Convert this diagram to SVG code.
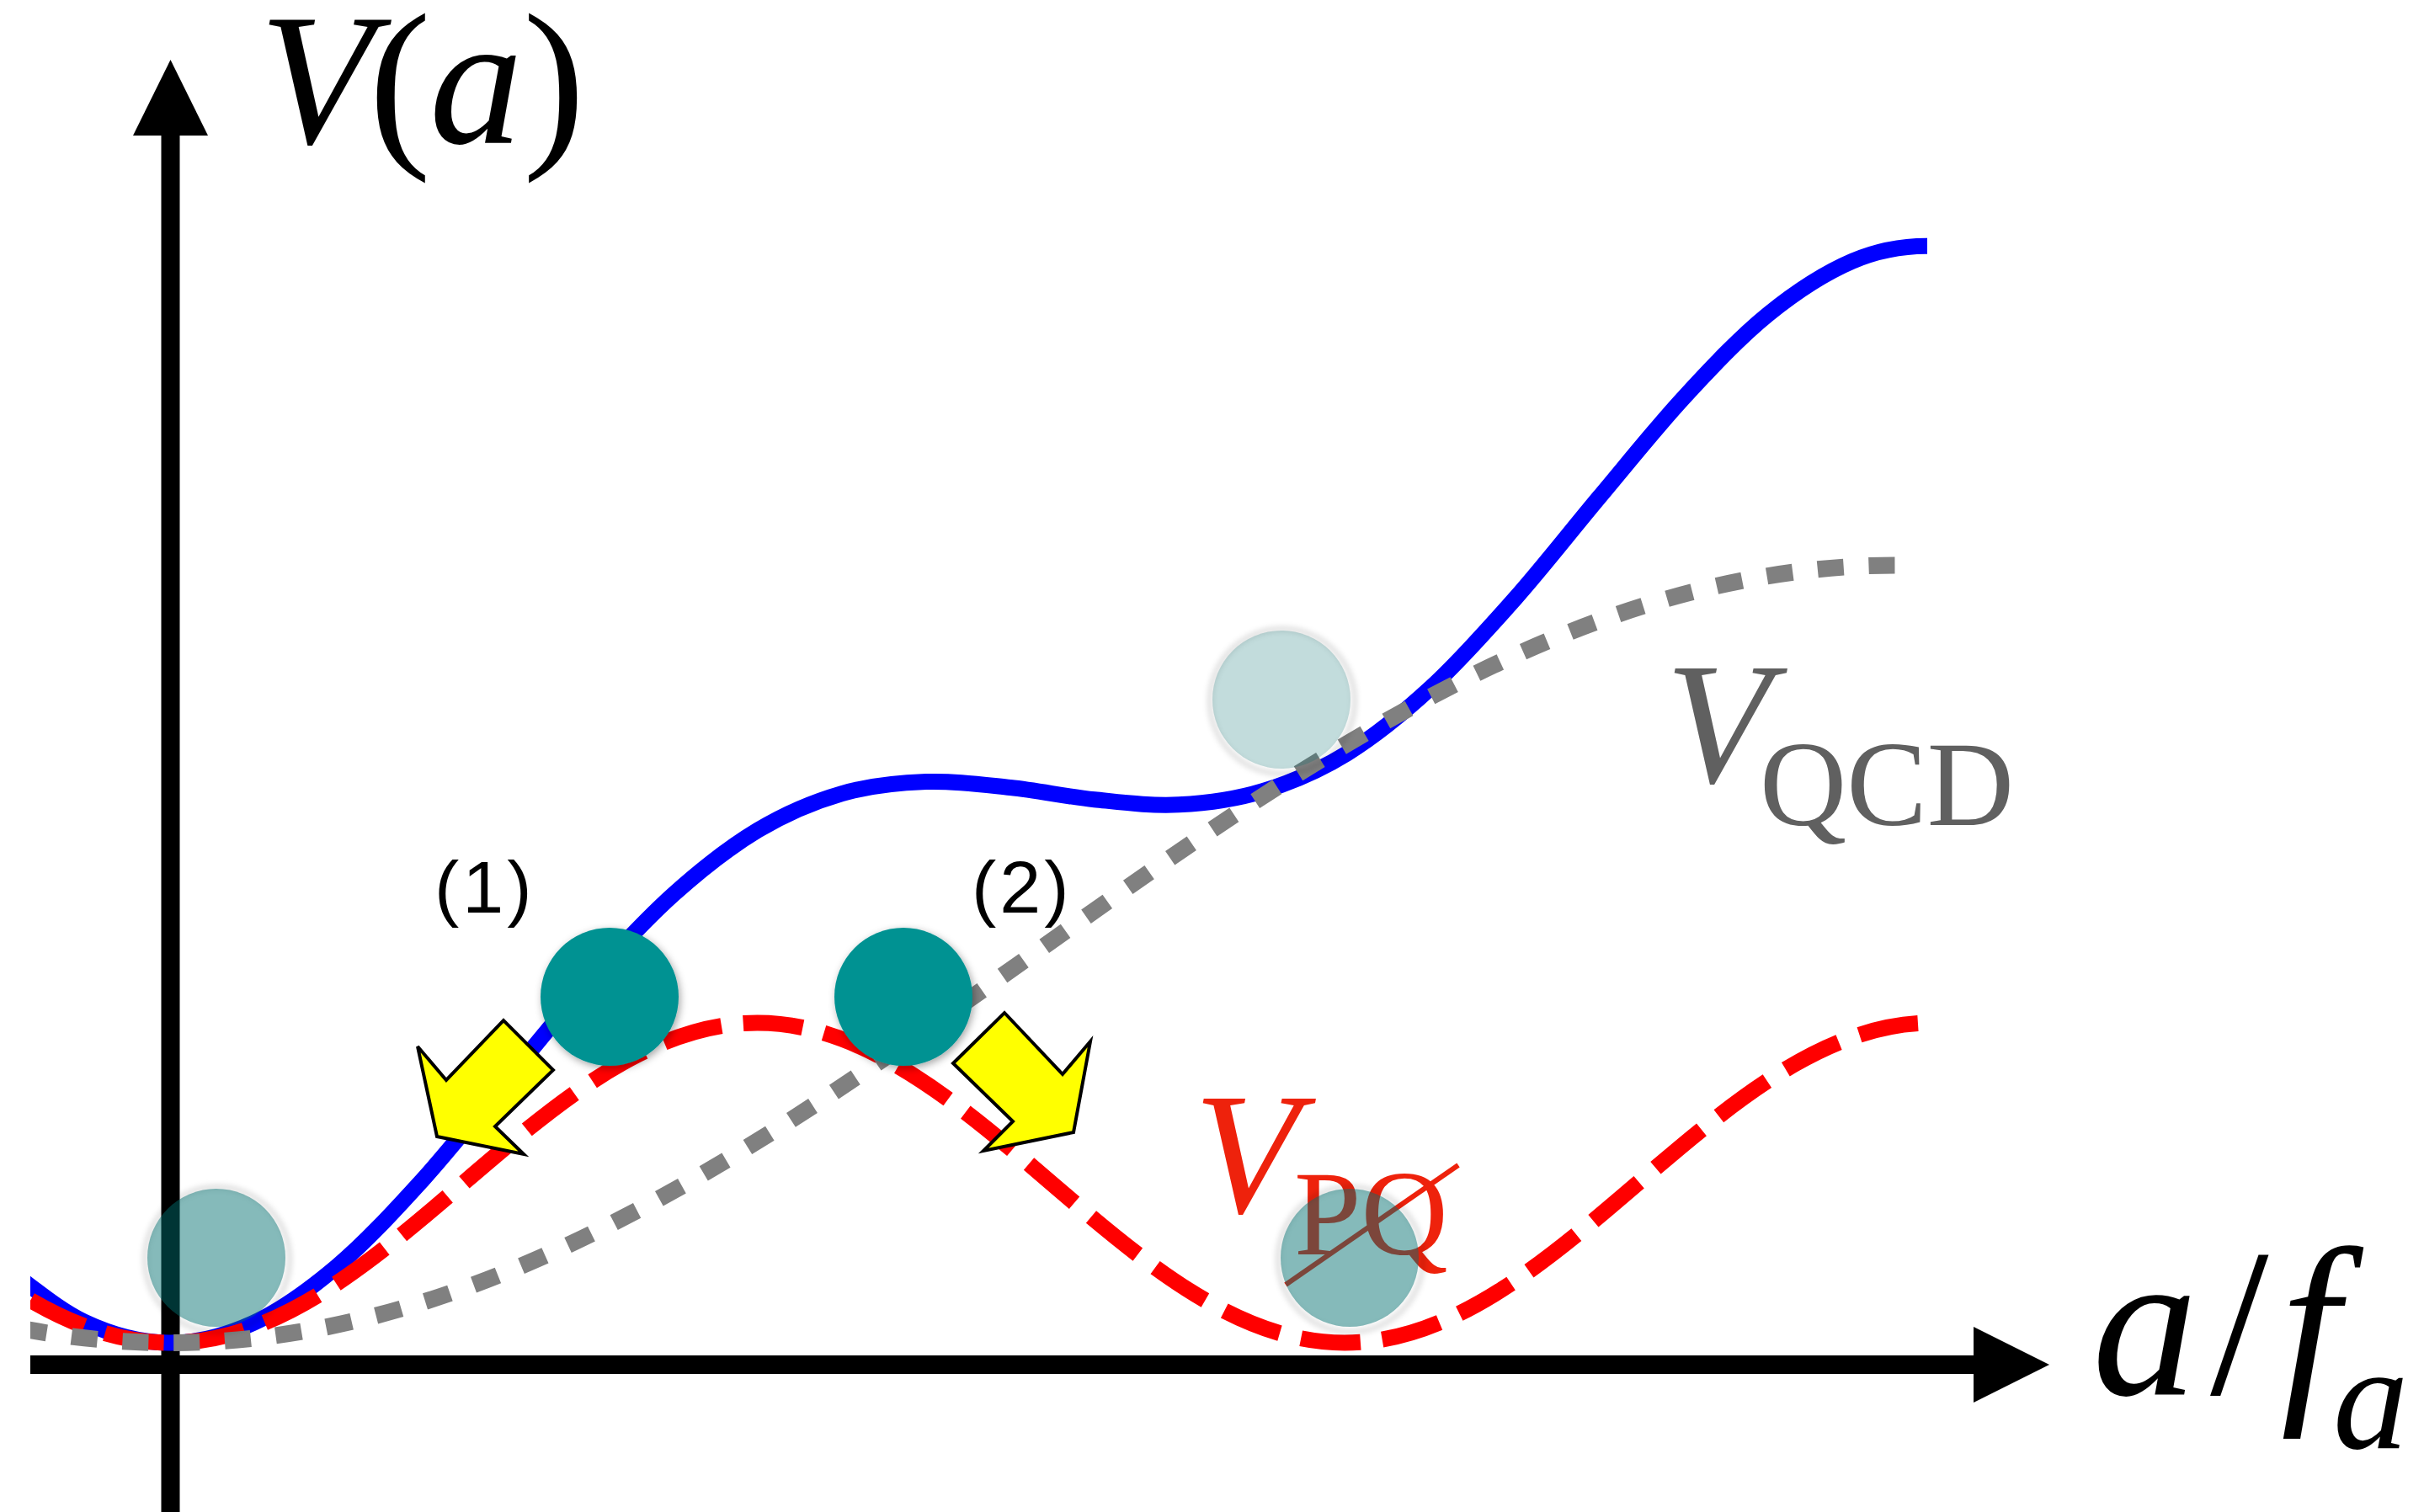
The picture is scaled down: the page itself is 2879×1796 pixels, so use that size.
<svg xmlns="http://www.w3.org/2000/svg" width="2879" height="1796" viewBox="0 0 2879 1796">
<style>
.serif{font-family:"Liberation Serif","Times New Roman",serif}
.it{font-style:italic}
.lbl{font-family:"Liberation Sans",Arial,sans-serif;font-size:88px;letter-spacing:4px;fill:#000}
.curve{fill:none;stroke-linecap:butt}
.solid{fill:#009292}
.ghost{fill:rgb(0,110,110)}
.halo{fill:none;stroke:#000;stroke-opacity:0.13;stroke-width:6}
.arrow{fill:#ffff00;stroke:#000;stroke-width:4;stroke-linejoin:miter}
</style>
<defs>
<clipPath id="plot"><rect x="36" y="0" width="2253" height="1796"/></clipPath>
<filter id="shadow" x="-30%" y="-30%" width="160%" height="160%">
<feDropShadow dx="2" dy="3" stdDeviation="5" flood-color="#000" flood-opacity="0.35"/>
</filter>
<filter id="blur" x="-30%" y="-30%" width="160%" height="160%">
<feGaussianBlur stdDeviation="3"/>
</filter>
</defs>
<rect width="2879" height="1796" fill="#fff"/>
<g id="axes">
<line x1="202.5" y1="150" x2="202.5" y2="1796" stroke="#000" stroke-width="22"/>
<polygon points="158,161 202.5,71 247,161" fill="#000"/>
<line x1="36" y1="1621" x2="2350" y2="1621" stroke="#000" stroke-width="22"/>
<polygon points="2344,1576 2434,1621 2344,1666" fill="#000"/>
</g>
<g id="connectors" clip-path="url(#plot)">
<path id="V-total" class="curve" stroke="#0000ff" stroke-width="19" d="M0,1501 C33.3,1524 66.7,1554.4 100,1570.1 S166.7,1594.7 200,1595 S266.7,1587 300,1571.9 S366.7,1532.6 400,1504.5 S466.7,1440.2 500,1403.6 S566.7,1324.4 600,1284.7 S666.7,1202.6 700,1165.5 S766.7,1092.2 800,1062.3 S866.7,1006.2 900,986.2 S966.7,952.2 1000,942.6 S1066.7,929.8 1100,928.6 S1166.7,932 1200,935.5 S1266.7,946.3 1300,949.7 S1366.7,957.5 1400,955.8 S1466.7,949.8 1500,939.6 S1566.7,915.4 1600,894.8 S1666.7,847 1700,816.3 S1766.7,748.1 1800,710.4 S1866.7,629.6 1900,589.9 S1966.7,508.2 2000,472.1 S2066.7,400.3 2100,373.3 S2168.5,323.7 2200,310.2 S2259,292.2 2289,292.2"/>
<path id="V-PQ" class="curve" stroke="#ff0000" stroke-width="19" stroke-dasharray="71 26" stroke-dashoffset="43" d="M-495.5,1215 C-241.6,1215 -51.9,1595 202,1595 C455.9,1595 645.6,1215 899.5,1215 C1153.4,1215 1343.1,1595 1597,1595 C1850.9,1595 2040.6,1215 2294.5,1215"/>
<path id="V-QCD" class="curve" stroke="#808080" stroke-width="20" stroke-dasharray="31 29.8" stroke-dashoffset="19.9" d="M-1848,671.5 C-1101.8,671.5 -544.2,1595 202,1595 C948.2,1595 1505.8,671.5 2252,671.5"/>
</g>
<g id="label-VQCD" class="serif" fill="#606060">
<text x="1978" y="929" font-size="205" class="it">V</text>
<text x="2090" y="980" font-size="143">QCD</text>
</g>
<g id="label-VPQ" class="serif" fill="#ee220c">
<text x="1418" y="1440" font-size="205" class="it">V</text>
<text x="1537" y="1490" font-size="143">PQ</text>
<line x1="1527" y1="1526" x2="1732" y2="1384" stroke="#ee220c" stroke-width="6"/>
</g>
<g id="ball-origin"><circle class="halo" cx="258" cy="1496" r="86" filter="url(#blur)"/><circle class="ghost" cx="257" cy="1494" r="82" fill-opacity="0.48"/></g>
<g id="ball-PQ-min"><circle class="halo" cx="1604" cy="1496" r="86" filter="url(#blur)"/><circle class="ghost" cx="1603" cy="1494" r="82" fill-opacity="0.48"/></g>
<g id="ball-plateau"><circle class="halo" cx="1523" cy="833" r="86" filter="url(#blur)" stroke-opacity="0.07"/><circle class="ghost" cx="1522" cy="831" r="82" fill-opacity="0.24"/></g>
<g id="ball-1" filter="url(#shadow)"><circle class="solid" cx="724" cy="1184" r="82"/></g>
<g id="ball-2" filter="url(#shadow)"><circle class="solid" cx="1073" cy="1184" r="82"/></g>
<g id="arrow-1"><polygon class="arrow" points="496,1243 530,1283 598,1212 657,1271 588,1338 622,1371 519,1350"/></g>
<g id="arrow-2"><polygon class="arrow" points="1193,1203 1262,1276 1295,1237 1275,1345 1168,1367 1203,1332 1132,1263"/></g>
<g id="label-1"><text class="lbl" x="516" y="1084">(1)</text></g>
<g id="label-2"><text class="lbl" x="1154" y="1084">(2)</text></g>
<g id="label-Va" class="serif" fill="#000" font-size="222">
<text y="170"><tspan x="308" class="it">V</tspan><tspan x="438">(</tspan><tspan x="510" class="it">a</tspan><tspan x="621">)</tspan></text>
</g>
<g id="label-afa" class="serif" fill="#000">
<text y="1656" font-size="250"><tspan x="2485" class="it">a</tspan><tspan x="2625">/</tspan><tspan x="2709" class="it">f</tspan></text>
<text x="2771" y="1720" font-size="179" class="it">a</text>
</g>
</svg>
